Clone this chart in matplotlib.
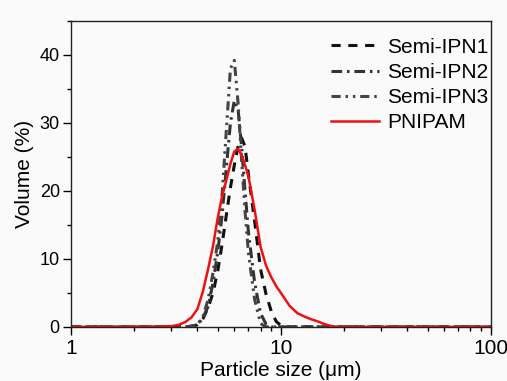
import numpy as np
import matplotlib.pyplot as plt
from matplotlib.ticker import MultipleLocator, FixedLocator, LogLocator, NullFormatter

plt.rcParams['font.family'] = ['Liberation Sans', 'DejaVu Sans']

# particle size grid (um) and volume (%)
size = [1, 2, 3, 3.25, 3.5, 3.75, 4, 4.25, 4.5, 4.75, 5, 5.25, 5.5, 5.75, 6, 6.25, 6.5, 6.75,
        7, 7.5, 8, 8.5, 9, 9.5, 10, 11, 12, 13, 14, 15, 16, 17, 18, 20, 30, 100]

ipn1 = [0, 0, 0, 0, 0, 0.1, 0.3, 1.2, 2.8, 5.0, 8.2, 12.2, 16.5, 20.5, 23.8, 26.5, 27.8, 26.5,
        22.5, 15.5, 8.5, 4.8, 2.3, 0.8, 0.2, 0, 0, 0, 0, 0, 0, 0, 0, 0, 0, 0]
ipn2 = [0, 0, 0, 0, 0, 0.1, 0.3, 1.3, 3.0, 6.5, 11.0, 16.5, 23.5, 30.0, 33.3, 32.0, 26.5, 20.0,
        14.0, 6.5, 2.0, 0.4, 0, 0, 0, 0, 0, 0, 0, 0, 0, 0, 0, 0, 0, 0]
ipn3 = [0, 0, 0, 0, 0, 0.1, 0.3, 1.5, 4.0, 8.0, 12.5, 19.5, 29.0, 38.0, 39.2, 33.0, 24.5, 17.0,
        11.0, 4.0, 0.5, 0, 0, 0, 0, 0, 0, 0, 0, 0, 0, 0, 0, 0, 0, 0]
pnipam = [0, 0, 0.1, 0.3, 0.7, 1.4, 2.6, 5.2, 8.5, 11.9, 16.0, 19.2, 21.6, 24.0, 25.8, 26.2, 25.3, 23.8,
          22.2, 17.2, 11.8, 9.0, 7.3, 6.0, 5.0, 3.1, 2.0, 1.5, 1.1, 0.8, 0.45, 0.2, 0.05, 0, 0, 0]

fig = plt.figure(figsize=(5.07, 3.81), dpi=100, facecolor='#fafafa')
ax = fig.add_axes([0.140, 0.142, 0.828, 0.803])
ax.set_facecolor('#fafafa')

ax.plot(size, ipn1, color='#111111', lw=2.2, ls=(0, (3, 2.5)), label='Semi-IPN1')
ax.plot(size, ipn2, color='#333333', lw=2.2, ls=(0, (3.5, 1.6, 0.8, 1.6)), label='Semi-IPN2')
ax.plot(size, ipn3, color='#444444', lw=2.2, ls=(0, (3, 1.6, 0.8, 1.6, 0.8, 1.6)), label='Semi-IPN3')
ax.plot(size, pnipam, color='#ee1111', lw=1.8, label='PNIPAM')

ax.set_xscale('log')
ax.set_xlim(1, 100)
ax.set_ylim(0, 45)
ax.set_xticks([1, 10, 100])
ax.set_xticklabels(['1', '10', '100'])
ax.xaxis.set_minor_locator(LogLocator(base=10, subs=np.arange(2, 10)))
ax.xaxis.set_minor_formatter(NullFormatter())
ax.yaxis.set_major_locator(FixedLocator([0, 10, 20, 30, 40]))
ax.yaxis.set_minor_locator(MultipleLocator(5))

ax.tick_params(which='both', direction='out', top=False, right=False, width=1)
ax.tick_params(axis='y', labelsize=13, pad=2)
ax.tick_params(axis='x', labelsize=15, pad=3)
ax.tick_params(which='major', length=6)
ax.tick_params(which='minor', length=3)
for s in ax.spines.values():
    s.set_visible(True)
    s.set_linewidth(1.0)
    s.set_color('#222222')

ax.set_xlabel('Particle size (μm)', fontsize=15, labelpad=2)
ax.set_ylabel('Volume (%)', fontsize=15, labelpad=4)

ax.legend(loc='upper right', bbox_to_anchor=(1.004, 0.959), frameon=False, fontsize=15,
          handlelength=2.3, handletextpad=0.4, labelspacing=0.3, borderaxespad=0, borderpad=0.2)

fig.savefig('out.png', dpi=100, facecolor=fig.get_facecolor())
